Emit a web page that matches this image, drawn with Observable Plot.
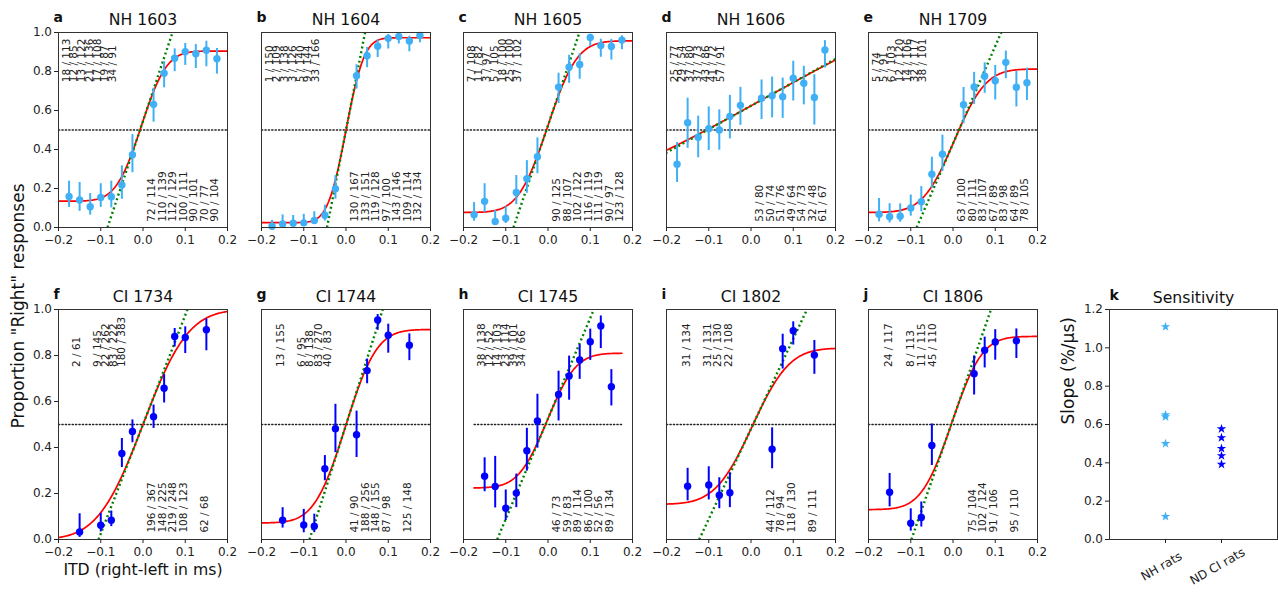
<!DOCTYPE html>
<html><head><meta charset="utf-8">
<script src="https://cdn.jsdelivr.net/npm/d3@7"></script>
<script src="https://cdn.jsdelivr.net/npm/@observablehq/plot@0.6"></script>
<style>
body{margin:0;background:#fff;overflow:hidden}
#fig{position:relative;width:1278px;height:595px;font-family:"DejaVu Sans",sans-serif;background:#fff}
.panel{position:absolute}
</style></head><body><div id="fig"></div>
<script>
// ---------- data ----------
const panelTitles = ["NH 1603","NH 1604","NH 1605","NH 1606","NH 1709","CI 1734","CI 1744","CI 1745","CI 1802","CI 1806"];
const panelLetters = ["a","b","c","d","e","f","g","h","i","j"];
const itdNH   = [-0.175,-0.15,-0.125,-0.1,-0.075,-0.05,-0.025,0.025,0.05,0.075,0.1,0.125,0.15,0.175];
const itdCI17 = [-0.15,-0.1,-0.075,-0.05,-0.025,0.025,0.05,0.075,0.1,0.15];
const itdCI45 = [-0.15,-0.125,-0.1,-0.075,-0.05,-0.025,0.025,0.05,0.075,0.1,0.125,0.15];
const itdCI18 = [-0.15,-0.1,-0.075,-0.05,0.05,0.075,0.1,0.15];

const right1603 = [18,12,13,21,17,19,34,72,110,112,100,90,70,90];
const total1603 = [113,85,122,136,108,87,91,114,139,129,111,101,77,104];
const right1604 = [1,2,3,3,5,9,33,130,133,119,97,143,109,132];
const total1604 = [150,109,138,126,140,144,166,167,151,128,100,146,114,134];
const right1605 = [7,11,3,5,18,25,37,90,88,102,116,111,90,123];
const total1605 = [108,82,97,105,100,100,102,125,107,122,119,119,97,128];
const right1606 = [25,29,37,37,43,41,57,53,50,51,49,54,32,61];
const total1606 = [77,54,80,73,86,72,91,80,74,76,64,73,48,67];
const right1709 = [5,5,6,12,14,32,38,63,80,83,67,83,64,78];
const total1709 = [74,91,103,120,106,117,101,100,111,107,89,98,89,105];
const right1734 = [2,9,22,83,180,196,148,219,108,62];
const total1734 = [61,145,262,222,383,367,225,248,123,68];
const right1744 = [13,6,8,83,40,41,188,148,87,125];
const total1744 = [155,95,138,270,83,90,256,155,98,148];
const right1745 = [38,12,14,23,39,34,46,59,89,86,52,89];
const total1745 = [138,52,103,114,101,66,73,83,114,100,56,134];
const right1802 = [31,31,25,22,44,78,118,89];
const total1802 = [134,131,130,108,112,94,130,111];
const right1806 = [24,8,11,45,75,102,91,95];
const total1806 = [117,113,115,110,104,124,106,110];

// fitted psychometric curves (lower / upper asymptote, centre in ms, half-range of the drawn fit)
const fitLower  = [0.135,0.025,0.077,0.0,0.077, 0.0,0.072,0.224,0.153,0.13];
const fitUpper  = [0.905,0.973,0.957,1.32,0.813, 1.0,0.913,0.81,0.832,0.883];
const fitCentre = [-0.004,0.0,-0.001,0.03,0.003, 0.0,-0.001,-0.002,0.003,-0.003];
const fitSpan   = [0.2,0.2,0.2,0.2,0.2, 0.2,0.2,0.175,0.2,0.2];

// sensitivity (slope, %/µs)
const slopeNH = [0.65,1.11,0.64,0.12,0.50];      // NH 1603, 1604, 1605, 1606, 1709
const slopeCI = [0.475,0.577,0.437,0.392,0.531]; // CI 1734, 1744, 1745, 1802, 1806
const groupNames = ["NH rats","ND CI rats"];

const xTicks = [-0.2,-0.1,0.0,0.1,0.2];
const yTicks = [0,0.2,0.4,0.6,0.8,1.0];
const slopeTicks = [0,0.2,0.4,0.6,0.8,1.0,1.2];

// ---------- assembly ----------
const itds   = [itdNH,itdNH,itdNH,itdNH,itdNH,itdCI17,itdCI17,itdCI45,itdCI18,itdCI18];
const rights = [right1603,right1604,right1605,right1606,right1709,right1734,right1744,right1745,right1802,right1806];
const totals = [total1603,total1604,total1605,total1606,total1709,total1734,total1744,total1745,total1802,total1806];
const slopes = [...slopeNH, ...slopeCI];

const LIGHT = "#3fb0f5", DARK = "#0000ff", INK = "#222";
const FONT = "DejaVu Sans";
const colLeft = [58, 261, 463, 666, 868];
const frameW = 169, mL = 55, mR = 10;
const rows = [
  {top: 0,   mT: 32, fH: 195, mB: 26, topY: 0.745},
  {top: 275, mT: 34, fH: 230, mB: 50, topY: 0.75}
];
const labelLineHeight = [0.74,0.74,0.74,0.74,0.74, 0.76,0.82,0.76,0.98,1.05];

function Phi(z) {
  const x = Math.abs(z) / Math.SQRT2;
  const t = 1 / (1 + 0.3275911 * x);
  const y = 1 - (((((1.061405429 * t - 1.453152027) * t) + 1.421413741) * t - 0.284496736) * t + 0.254829592) * t * Math.exp(-x * x);
  return z >= 0 ? 0.5 * (1 + y) : 0.5 * (1 - y);
}
function wilson(k, n) {
  const z = 1.96, p = k / n, d = 1 + z * z / n;
  const c = (p + z * z / (2 * n)) / d;
  const h = z * Math.sqrt(p * (1 - p) / n + z * z / (4 * n * n)) / d;
  return [c - h, c + h];
}

const fig = document.getElementById("fig");
function place(svg, left, top, w, h) {
  const div = document.createElement("div");
  div.className = "panel";
  div.style.left = left + "px"; div.style.top = top + "px";
  div.style.width = w + "px"; div.style.height = h + "px";
  div.appendChild(svg);
  fig.appendChild(div);
}
const svgStyle = {background: "transparent", overflow: "visible", fontFamily: FONT, fontSize: "12px", color: INK, maxWidth: "none"};

function panel(i) {
  const row = i < 5 ? 0 : 1, col = i % 5, R = rows[row];
  const itd = itds[i], k = rights[i], n = totals[i];
  const pts = itd.map((x, j) => {
    const [l, u] = wilson(k[j], n[j]);
    return {x, p: k[j] / n[j], l, u, label: `${k[j]} / ${n[j]}`};
  });
  const lo = fitLower[i], hi = fitUpper[i], x0 = fitCentre[i], span = fitSpan[i];
  const kk = slopes[i] * 10;                 // proportion per ms
  const sd = (hi - lo) * 0.3989423 / kk;
  const curve = d3.range(-span, span + 1e-9, 0.002).map(x => ({x, y: lo + (hi - lo) * Phi((x - x0) / sd)}));
  const p0 = (lo + hi) / 2;
  const tangent = [{x: x0 - p0 / kk, y: 0}, {x: x0 + (1 - p0) / kk, y: 1}];
  const half = [{x: -span, y: 0.5}, {x: span, y: 0.5}];
  const neg = pts.filter(d => d.x < 0), pos = pts.filter(d => d.x > 0);
  const runs = [];
  neg.forEach((d, j) => {
    if (j && Math.abs(d.x - neg[j - 1].x - 0.025) < 1e-6) runs[runs.length - 1].push(d);
    else runs.push([d]);
  });
  const topText = runs.map(r => ({x: r[0].x, text: r.map(d => d.label).join("\n")}));
  const color = row === 0 ? LIGHT : DARK;
  const marks = [
    Plot.line(half, {x: "x", y: "y", stroke: INK, strokeWidth: 1.3, strokeDasharray: "1.3,2.1"}),
    Plot.line(curve, {x: "x", y: "y", stroke: "red", strokeWidth: 1.7, clip: true}),
    Plot.line(tangent, {x: "x", y: "y", stroke: "#008000", strokeWidth: 2.4, strokeDasharray: "2,2.8", strokeLinecap: "butt", clip: true}),
    Plot.ruleX(pts, {x: "x", y1: "l", y2: "u", stroke: color, strokeWidth: 2}),
    Plot.dot(pts, {x: "x", y: "p", fill: color, r: 3.7}),
    Plot.text(topText, {x: "x", y: R.topY, text: "text", rotate: -90, textAnchor: "start", lineAnchor: "top",
      lineHeight: labelLineHeight[i], fontSize: 10.5, dx: -5, fill: INK}),
    Plot.text(pos, {x: "x", y: 0.03, text: "label", rotate: -90, textAnchor: "start", fontSize: 10.5, dx: -2, fill: INK}),
    Plot.frame({stroke: "#333"}),
    Plot.axisX({ticks: xTicks, tickFormat: d3.format(".1f"), tickSize: 4, tickPadding: 3.5, fontSize: 12, label: null}),
    Plot.text([panelTitles[i]], {text: d => d, frameAnchor: "top", lineAnchor: "bottom", dy: -7.3, fontSize: 15.7, fill: "#111"}),
    Plot.text([panelLetters[i]], {text: d => d, frameAnchor: "top-left", textAnchor: "start", lineAnchor: "bottom", dy: -10.5, dx: -5, fontSize: 14, fontWeight: "bold", fill: "#111"})
  ];
  if (col === 0) marks.push(Plot.axisY({ticks: yTicks, tickFormat: d3.format(".1f"), tickSize: 4, tickPadding: 2.5, fontSize: 12, label: null}));
  if (i === 5) {
    marks.push(Plot.text(['Proportion "Right" responses'], {text: d => d, frameAnchor: "left", rotate: -90, dx: -40, dy: 4, fontSize: 17, fill: "#111"}));
    marks.push(Plot.text(["ITD (right-left in ms)"], {text: d => d, frameAnchor: "bottom", lineAnchor: "bottom", dy: 35, fontSize: 15.7, fill: "#111"}));
  }
  const W = mL + frameW + mR, H = R.mT + R.fH + R.mB;
  const svg = Plot.plot({
    width: W, height: H, marginLeft: mL, marginRight: mR, marginTop: R.mT, marginBottom: R.mB,
    x: {domain: [-0.2, 0.2], axis: null, label: null},
    y: {domain: [0, 1], axis: null, label: null},
    style: svgStyle,
    marks
  });
  place(svg, colLeft[col] - mL, R.top, W, H);
}
for (let i = 0; i < 10; i++) panel(i);

// panel k: sensitivity
(function () {
  const R = rows[1];
  const stars = [
    ...slopeNH.map(v => ({g: 0, v, c: LIGHT})),
    ...slopeCI.map(v => ({g: 1, v, c: DARK}))
  ];
  const W = mL + 168 + mR, H = R.mT + R.fH + R.mB;
  const svg = Plot.plot({
    width: W, height: H, marginLeft: mL, marginRight: mR, marginTop: R.mT, marginBottom: R.mB,
    x: {domain: [-1, 2], axis: null, label: null},
    y: {domain: [0, 1.2], axis: null, label: null},
    style: svgStyle,
    marks: [
      Plot.dot(stars, {x: "g", y: "v", fill: "c", symbol: "star", r: 3}),
      Plot.frame({stroke: "#333"}),
      Plot.axisX({ticks: [0, 1], tickSize: 4, text: null, label: null}),
      Plot.axisX({ticks: [0, 1], tickSize: 0, tickFormat: d => groupNames[d], tickRotate: -30, textAnchor: "middle", lineAnchor: "middle", tickPadding: 27, dx: -4, fontSize: 12, label: null}),
      Plot.axisY({ticks: slopeTicks, tickFormat: d3.format(".1f"), tickSize: 4, tickPadding: 2.5, fontSize: 12, label: null}),
      Plot.text(["Sensitivity"], {text: d => d, frameAnchor: "top", lineAnchor: "bottom", dy: -6.5, fontSize: 15.7, fill: "#111"}),
      Plot.text(["k"], {text: d => d, frameAnchor: "top-left", textAnchor: "start", lineAnchor: "bottom", dy: -10, dx: 0, fontSize: 14, fontWeight: "bold", fill: "#111"}),
      Plot.text(["Slope (%/µs)"], {text: d => d, frameAnchor: "left", rotate: -90, dx: -41, fontSize: 17, fill: "#111"})
    ]
  });
  place(svg, 1109 - mL, R.top, W, H);
})();
</script></body></html>
